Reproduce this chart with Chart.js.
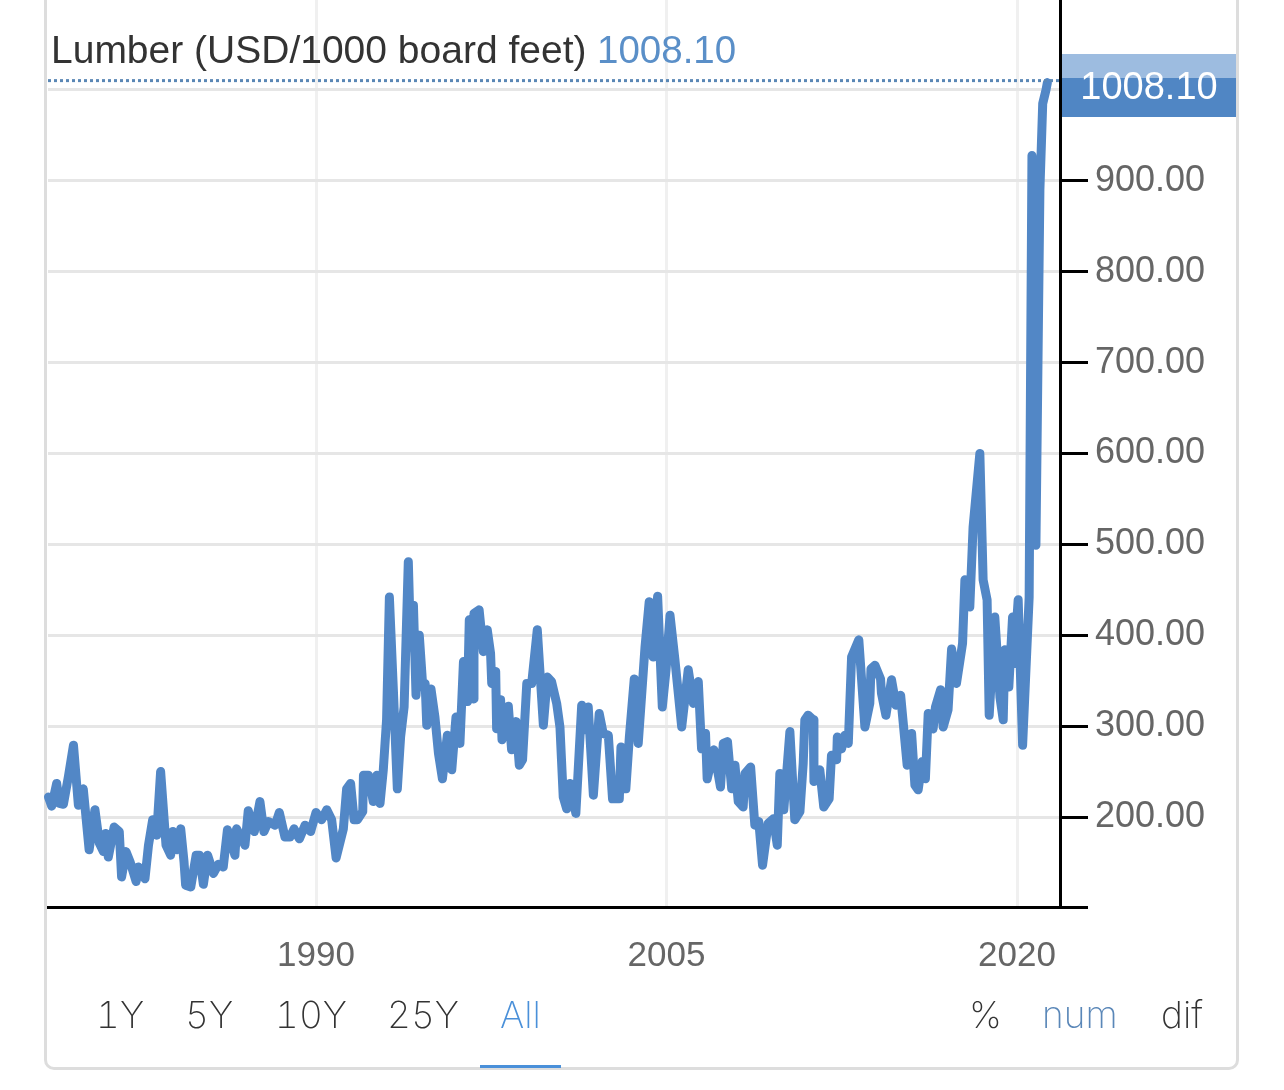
<!DOCTYPE html>
<html>
<head>
<meta charset="utf-8">
<title>Lumber</title>
<script src="https://cdn.jsdelivr.net/npm/chart.js@4/dist/chart.umd.min.js"></script>
<style>
  html, body { margin: 0; padding: 0; background: #fff; width: 1284px; height: 1090px; overflow: hidden; }
  #frame { position: absolute; left: 44px; top: -20px; width: 1189px; height: 1084px; border: 3px solid #ddd; border-radius: 10px; }
  #graph { position: absolute; left: 0; top: 0; }
  .btn { position: absolute; top: 989px; font: 200 37px Inter, sans-serif; font-feature-settings: 'tnum'; line-height: 52px; color: #333; white-space: nowrap; }
  .on { color: #4a90d9; }
  .num { color: #5a87b8; }
  #underline { position: absolute; left: 480px; top: 1065px; width: 81px; height: 3px; background: #4a90d9; }
</style>
</head>
<body>
<div id="frame"></div>
<canvas id="graph" width="1284" height="1090"></canvas>
<span class="btn" style="left:96px">1Y</span>
<span class="btn" style="left:185px">5Y</span>
<span class="btn" style="left:275px">10Y</span>
<span class="btn" style="left:387px">25Y</span>
<span class="btn on" style="left:500px">All</span>
<span class="btn" style="left:969px">%</span>
<span class="btn num" style="left:1042px">num</span>
<span class="btn" style="left:1161px">dif</span>
<div id="underline"></div>
<script>
var titleText = 'Lumber (USD/1000 board feet)';
var lastLabel = '1008.10';
var lastValue = 1008.1;

// valeurs
var years = [
  1978.55, 1978.69, 1978.90, 1979.02, 1979.19, 1979.40, 1979.62, 1979.83, 1980.04, 1980.29, 1980.54, 1980.73, 1980.90, 1981.00, 1981.11, 1981.36, 1981.58, 1981.68, 1981.87, 1982.04, 1982.30, 1982.40, 1982.68, 1982.83, 1983.01, 1983.18, 1983.35, 1983.58, 1983.78, 1983.87, 1984.04, 1984.21, 1984.35, 1984.42, 1984.64, 1984.87, 1985.01, 1985.18, 1985.36, 1985.61, 1985.82, 1986.03, 1986.21, 1986.53, 1986.60, 1986.96, 1987.10, 1987.36, 1987.60, 1987.77, 1987.96, 1988.25, 1988.43, 1988.67, 1988.89, 1989.06, 1989.29, 1989.53, 1989.77, 1990.00, 1990.24, 1990.46, 1990.67, 1990.86,
  1991.17, 1991.31, 1991.48, 1991.63, 1991.77, 1992.00, 1992.03, 1992.24, 1992.45, 1992.60, 1992.74, 1992.88, 1993.02, 1993.14, 1993.31, 1993.48, 1993.62, 1993.77, 1993.95, 1994.05, 1994.17, 1994.28, 1994.42, 1994.57, 1994.67, 1994.74, 1994.92, 1995.09, 1995.24, 1995.41, 1995.62, 1995.81, 1995.99, 1996.16, 1996.31, 1996.48, 1996.56, 1996.73, 1996.76, 1996.98, 1997.16, 1997.33, 1997.47, 1997.52, 1997.69, 1997.73, 1997.90, 1997.96, 1998.23, 1998.37, 1998.56, 1998.70, 1998.84, 1999.02, 1999.23, 1999.47, 1999.73, 1999.90, 2000.08, 2000.30, 2000.44, 2000.58,
  2000.73, 2000.87, 2001.12, 2001.37, 2001.51, 2001.65, 2001.87, 2002.12, 2002.29, 2002.51, 2002.69, 2002.98, 2003.05, 2003.26, 2003.41, 2003.62, 2003.79, 2004.08, 2004.26, 2004.43, 2004.62, 2004.82, 2004.98, 2005.15, 2005.36, 2005.65, 2005.93, 2006.15, 2006.36, 2006.50, 2006.67, 2006.74, 2007.03, 2007.31, 2007.43, 2007.61, 2007.79, 2007.93, 2008.07, 2008.28, 2008.36, 2008.60, 2008.78, 2008.95, 2009.11, 2009.35, 2009.57, 2009.74, 2009.85, 2010.02, 2010.28, 2010.49,
  2010.71, 2010.85, 2010.92, 2011.06, 2011.28, 2011.31, 2011.56, 2011.73, 2011.96, 2012.06, 2012.28, 2012.31, 2012.49, 2012.63, 2012.78, 2012.92, 2013.23, 2013.49, 2013.70, 2013.75, 2013.92, 2014.16, 2014.20, 2014.39, 2014.63, 2014.82, 2015.02, 2015.30, 2015.49, 2015.63, 2015.77, 2015.94, 2016.08, 2016.20, 2016.41, 2016.51, 2016.73, 2016.84, 2017.05, 2017.20, 2017.41, 2017.67, 2017.77, 2017.98, 2018.12, 2018.41, 2018.55, 2018.72, 2018.81, 2019.05, 2019.27, 2019.41, 2019.48, 2019.65, 2019.81, 2019.87, 2020.05, 2020.24, 2020.52, 2020.64, 2020.81, 2020.98, 2021.10, 2021.24, 2021.30
];
var prices = [
  222, 212, 237, 215, 214, 244, 279, 213, 231, 164, 208, 171, 162, 182, 156, 189, 184, 134, 162, 151, 129, 145, 132, 169, 197, 180, 250, 169, 158, 184, 164, 187, 151, 125, 123, 158, 158, 126, 158, 138, 148, 145, 186, 158, 187, 169, 207, 184, 217, 184, 195, 191, 205, 178, 178, 187, 176, 191, 184, 205, 197, 208, 197, 155,
  187, 231, 237, 197, 197, 206, 246, 246, 217, 246, 215, 252, 307, 442, 340, 231, 288, 321, 481, 387, 433, 334, 400, 343, 347, 301, 341, 310, 270, 242, 290, 252, 310, 281, 371, 327, 417, 330, 424, 428, 382, 406, 380, 347, 360, 297, 329, 285, 322, 274, 305, 257, 263, 347, 347, 406, 301, 354, 349, 325, 299, 222,
  209, 237, 204, 323, 296, 321, 224, 314, 292, 290, 220, 220, 277, 231, 288, 352, 281, 387, 437, 376, 443, 321, 362, 422, 373, 299, 362, 325, 349, 275, 292, 242, 274, 233, 281, 283, 231, 257, 217, 211, 248, 255, 191, 195, 147, 193, 198, 169, 248, 208, 294, 197,
  206, 259, 307, 312, 307, 239, 252, 211, 220, 268, 263, 288, 275, 290, 281, 376, 395, 299, 325, 363, 367, 352, 336, 312, 351, 323, 334, 257, 292, 235, 230, 261, 242, 314, 297, 321, 340, 299, 318, 385, 347, 391, 461, 431, 519, 600, 461, 439, 312, 420, 332, 307, 384, 343, 420, 369, 439, 279, 442, 928, 499, 890, 985, 1000, 1008.1
];
var xTicks = [1990, 2005, 2020];
var yTicks = [101, 200, 300, 400, 500, 600, 700, 800, 900, 1000];
var yTickLabels = ['', '200.00', '300.00', '400.00', '500.00', '600.00', '700.00', '800.00', '900.00', ''];

var points = years.map(function (y, i) { return { x: y, y: prices[i] }; });

// titre, ligne pointillee et etiquette de la derniere valeur
var overlay = {
  id: 'overlay',
  afterDraw: function (chart) {
    var ctx = chart.ctx;
    var y = chart.scales.y.getPixelForValue(lastValue) - 2;
    ctx.save();
    ctx.strokeStyle = '#5a87b5';
    ctx.lineWidth = 3;
    ctx.setLineDash([3, 3]);
    ctx.beginPath();
    ctx.moveTo(48, y);
    ctx.lineTo(1060, y);
    ctx.stroke();
    ctx.setLineDash([]);

    ctx.fillStyle = '#9dbce0';
    ctx.fillRect(1062, 54, 174, 25);
    ctx.fillStyle = '#5086c4';
    ctx.fillRect(1062, 78, 174, 39);
    ctx.fillStyle = '#fff';
    ctx.font = '38px "Liberation Sans"';
    ctx.textAlign = 'center';
    ctx.textBaseline = 'middle';
    ctx.fillText(lastLabel, 1149, 89);

    ctx.textAlign = 'left';
    ctx.fillStyle = '#333';
    ctx.font = '39px "Liberation Sans"';
    ctx.fillText(titleText, 51, 52);
    ctx.fillStyle = '#5a8fc8';
    ctx.font = '38.5px "Liberation Sans"';
    ctx.fillText(lastLabel, 597, 52);
    ctx.restore();
  }
};

new Chart(document.getElementById('graph'), {
  type: 'line',
  data: {
    datasets: [{
      data: points,
      borderColor: '#5287c6',
      borderWidth: 9,
      borderJoinStyle: 'round',
      borderCapStyle: 'round',
      pointRadius: 0,
      tension: 0,
      clip: false
    }]
  },
  options: {
    responsive: false,
    animation: false,
    devicePixelRatio: 1,
    parsing: false,
    layout: { padding: { left: 48, top: 0, right: 0, bottom: 0 } },
    plugins: { legend: { display: false }, tooltip: { enabled: false } },
    scales: {
      x: {
        type: 'linear',
        min: 1978.53,
        max: 2021.84,
        afterBuildTicks: function (scale) {
          scale.ticks = xTicks.map(function (v) { return { value: v }; });
        },
        afterFit: function (scale) {
          scale.height = 183;
          scale.paddingLeft = 0;
          scale.paddingRight = 0;
        },
        border: { color: '#000', width: 3 },
        grid: { color: '#f0f0f0', lineWidth: 3, drawTicks: false },
        ticks: {
          color: '#666',
          padding: 28,
          autoSkip: false,
          maxRotation: 0,
          font: { family: 'Liberation Sans', size: 35 },
          callback: function (v) { return String(v); }
        }
      },
      y: {
        position: 'right',
        min: 101,
        max: 1099,
        afterBuildTicks: function (scale) {
          scale.ticks = yTicks.map(function (v) { return { value: v }; });
        },
        afterFit: function (scale) {
          scale.width = 224;
          scale.paddingTop = 0;
          scale.paddingBottom = 0;
        },
        border: { color: '#000', width: 3 },
        grid: { color: '#e6e6e6', lineWidth: 3, tickColor: '#000', tickWidth: 3, tickLength: 28 },
        ticks: {
          color: '#666',
          padding: 7,
          autoSkip: false,
          font: { family: 'Liberation Sans', size: 36 },
          callback: function (v) {
            return yTickLabels[yTicks.indexOf(v)];
          }
        }
      }
    }
  },
  plugins: [overlay]
});
</script>
</body>
</html>
